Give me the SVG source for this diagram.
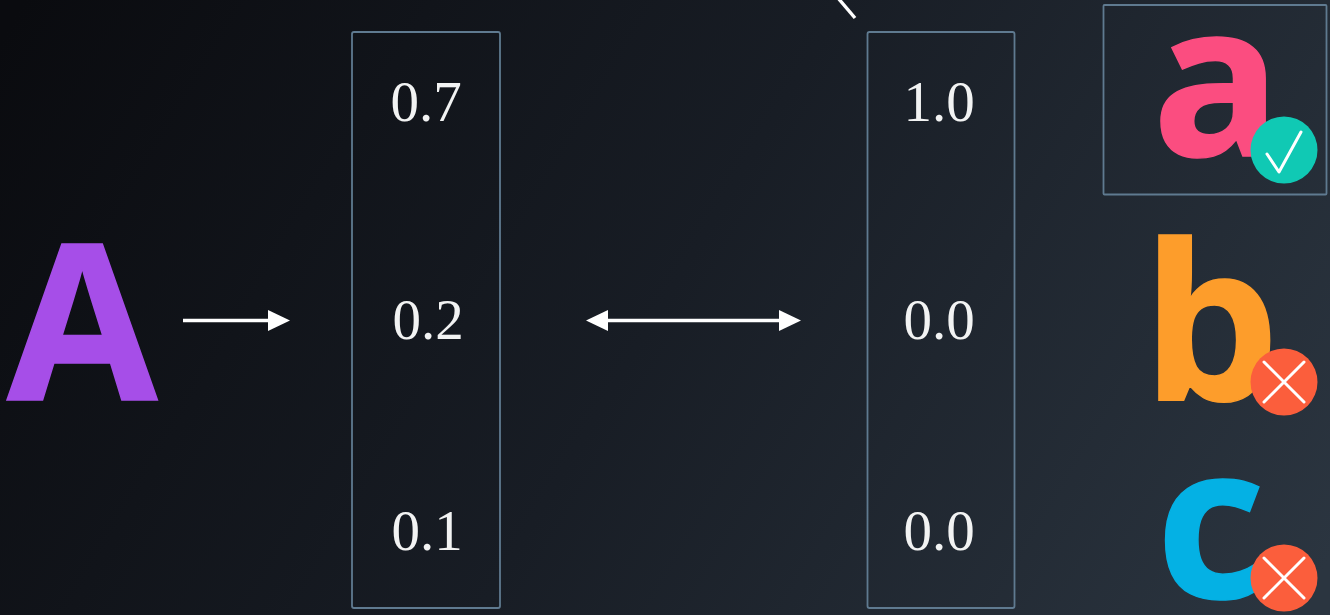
<svg xmlns="http://www.w3.org/2000/svg" width="1330" height="615" viewBox="0 0 1330 615">
<defs>
<linearGradient id="bg" gradientUnits="userSpaceOnUse" x1="60" y1="-60" x2="1270" y2="660">
<stop offset="0" stop-color="#0a0b0f"/>
<stop offset="0.5" stop-color="#181d25"/>
<stop offset="1" stop-color="#2b3540"/>
</linearGradient>
<marker id="head" markerUnits="userSpaceOnUse" markerWidth="24" markerHeight="24" refX="2" refY="12" orient="auto-start-reverse">
<path d="M0 1.500L22 12L0 22.500Z" fill="#fff"/>
</marker>
</defs>
<style>
.box{fill:none;stroke:#5f7a90;stroke-width:1.8}
.num{font-family:"Liberation Serif",serif;font-size:57px;fill:#f2f3f3;text-anchor:middle}
.big{font-family:"Open Sans","Noto Sans",sans-serif;font-weight:700;stroke-width:1.5;paint-order:stroke}
.wire{fill:none;stroke:#fff;stroke-width:3.6}
.mark{fill:none;stroke:#fff;stroke-width:3;stroke-linecap:round;stroke-linejoin:round}
</style>
<rect width="1330" height="615" fill="url(#bg)"/>
<g id="connectors">
<line class="wire" x1="183" y1="320.500" x2="270" y2="320.500" marker-end="url(#head)"/>
<line class="wire" x1="606" y1="320.500" x2="781" y2="320.500" marker-start="url(#head)" marker-end="url(#head)"/>
<line x1="838" y1="-2" x2="855" y2="18" stroke="#fff" stroke-width="3.400"/>
</g>
<g id="node-input"><text class="big" x="7" y="399.500" font-size="218" fill="#a64ee8" stroke="#a64ee8">A</text></g>
<g id="node-predicted">
<rect class="box" x="352" y="32" width="148" height="576" rx="2"/>
<text class="num" x="426" y="121">0.7</text>
<text class="num" x="428" y="339">0.2</text>
<text class="num" x="427" y="550">0.1</text>
</g>
<g id="node-target">
<rect class="box" x="867.500" y="32" width="147" height="576" rx="2"/>
<text class="num" x="939" y="121">1.0</text>
<text class="num" x="939" y="339">0.0</text>
<text class="num" x="939" y="550">0.0</text>
</g>
<g id="node-a">
<rect class="box" x="1103.500" y="5" width="223" height="189.500" rx="1"/>
<text class="big" x="1152" y="156" font-size="214" fill="#fb4d80" stroke="#fb4d80">a</text>
<circle cx="1284" cy="150" r="33.500" fill="#10c9b4"/>
<path class="mark" d="M1267 154L1279 172L1301 132"/>
</g>
<g id="node-b">
<text class="big" x="1142" y="400" font-size="217" fill="#fd9d2b" stroke="#fd9d2b">b</text>
<circle cx="1284" cy="382" r="33.500" fill="#fb5e3c"/>
<path class="mark" d="M1264 362L1304 402M1304 362L1264 402"/>
</g>
<g id="node-c">
<text class="big" x="1156" y="598" font-size="213" fill="#04b1e4" stroke="#04b1e4">c</text>
<circle cx="1284" cy="578" r="33.500" fill="#fb5e3c"/>
<path class="mark" d="M1264 558L1304 598M1304 558L1264 598"/>
</g>
</svg>
